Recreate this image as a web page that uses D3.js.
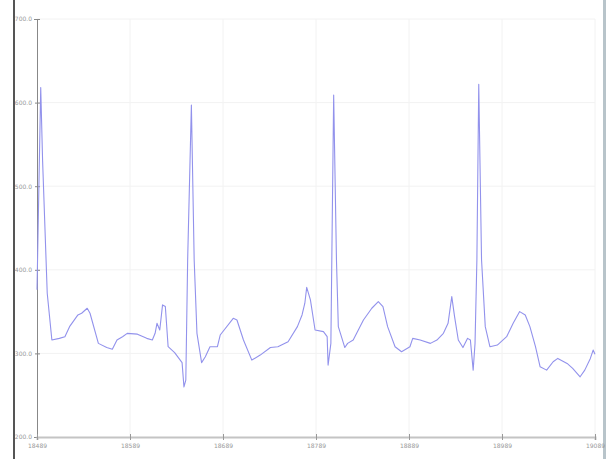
<!DOCTYPE html>
<html>

<head>
    <title>ECG trace</title>
    <script src="https://cdn.jsdelivr.net/npm/d3@7/dist/d3.min.js"></script>
    <style>
        html, body { margin: 0; padding: 0; background: #fff; overflow: hidden; }
        svg { display: block; }
    </style>
</head>

<body>
    <svg width="608" height="459" id="mainsvg"></svg>
    <script>
        // sample index (relative) and amplitude
        const sampleIdx = [0, 4, 6, 11, 16, 24, 30, 35, 44, 48, 54, 57, 66, 75, 81, 86, 92, 97, 108, 118,
            124, 127, 129, 132, 135, 138, 141, 148, 156, 158, 160, 162, 166, 169, 172, 177, 181, 186, 194, 197,
            211, 215, 222, 231, 240, 251, 259, 270, 280, 285, 288, 290, 294, 299, 308, 312, 313, 316, 317, 319,
            322, 324, 331, 334, 340, 351, 360, 367, 372, 377, 385, 392, 401, 404, 412, 423, 430, 437, 442, 446,
            449, 453, 458, 463, 466, 469, 471, 473, 475, 478, 482, 487, 495, 505, 512, 519, 525, 530, 536, 541,
            548, 555, 560, 570, 576, 584, 589, 595, 598, 600];
        const voltage = [376, 618, 531, 372, 316, 318, 320, 332, 346, 348, 354, 348, 312, 307, 305, 316, 320, 324, 323, 318,
            316, 324, 336, 328, 358, 356, 308, 301, 289, 260, 268, 412, 597, 412, 324, 289, 296, 308, 308, 322,
            342, 340, 316, 292, 298, 307, 308, 314, 332, 346, 360, 379, 364, 328, 326, 320, 286, 312, 412, 609,
            412, 332, 307, 312, 316, 340, 354, 362, 356, 332, 308, 302, 308, 318, 316, 312, 316, 324, 336, 368,
            344, 316, 307, 318, 316, 280, 312, 412, 622, 412, 332, 308, 310, 320, 336, 350, 346, 332, 308, 284,
            280, 290, 294, 288, 282, 272, 280, 294, 304, 299];
        const sampleOffset = 18489;
        const xTicks = [0, 100, 200, 300, 400, 500, 600];
        const yTicks = [200, 300, 400, 500, 600, 700];

        const svg = d3.select('svg');
        const width = +svg.attr('width');
        const height = +svg.attr('height');
        const margin = { top: 19, right: 13, bottom: 22, left: 37 };
        const innerWidth = width - margin.left - margin.right;
        const innerHeight = height - margin.top - margin.bottom;

        const data = sampleIdx.map((s, i) => ({ s: s, v: voltage[i] }));

        const xScale = d3.scaleLinear().domain([0, 600]).range([0, innerWidth]);
        const yScale = d3.scaleLinear().domain([200, 700]).range([innerHeight, 0]);

        // screenshot frame edges
        svg.append('rect').attr('x', 13).attr('y', 0).attr('width', 2).attr('height', height).attr('fill', '#555');
        svg.append('rect').attr('x', 603).attr('y', 0).attr('width', 3).attr('height', height).attr('fill', '#b8c4ca');

        const g = svg.append('g')
            .attr('transform', `translate(${margin.left}, ${margin.top})`);

        // faint grid
        g.append('g').selectAll('line').data(xTicks.slice(1)).join('line')
            .attr('x1', d => xScale(d)).attr('x2', d => xScale(d))
            .attr('y1', 0).attr('y2', innerHeight)
            .attr('stroke', '#f2f2f2');
        g.append('g').selectAll('line').data(yTicks.slice(1)).join('line')
            .attr('x1', 0).attr('x2', innerWidth)
            .attr('y1', d => yScale(d)).attr('y2', d => yScale(d))
            .attr('stroke', '#f2f2f2');

        const yAxis = d3.axisLeft(yScale)
            .tickValues(yTicks)
            .tickFormat(d3.format('.1f'))
            .tickSize(3)
            .tickPadding(2);
        const yAxis_group = g.append('g').call(yAxis);
        yAxis_group.select('.domain').attr('stroke', '#888');
        yAxis_group.selectAll('.tick line').attr('x2', 3).attr('x1', -2).attr('stroke', '#888');

        const xAxis = d3.axisBottom(xScale)
            .tickValues(xTicks)
            .tickFormat(d => sampleOffset + d)
            .tickSize(3)
            .tickPadding(4);
        const xAxis_group = g.append('g')
            .attr('transform', `translate(0, ${innerHeight})`)
            .call(xAxis);
        xAxis_group.select('.domain').attr('stroke', '#c4c4c4').attr('stroke-width', 2);
        xAxis_group.selectAll('.tick line').attr('y1', -3).attr('stroke', '#999');

        g.selectAll('.tick text')
            .attr('font-size', '6px')
            .attr('font-family', 'DejaVu Sans')
            .attr('fill', '#999');

        const line = d3.line()
            .x(d => xScale(d.s))
            .y(d => yScale(d.v));

        g.append('path')
            .datum(data)
            .attr('d', line)
            .attr('fill', 'none')
            .attr('stroke', '#9292ec')
            .attr('stroke-width', 1.1)
            .attr('stroke-linejoin', 'round');
    </script>
</body>

</html>
